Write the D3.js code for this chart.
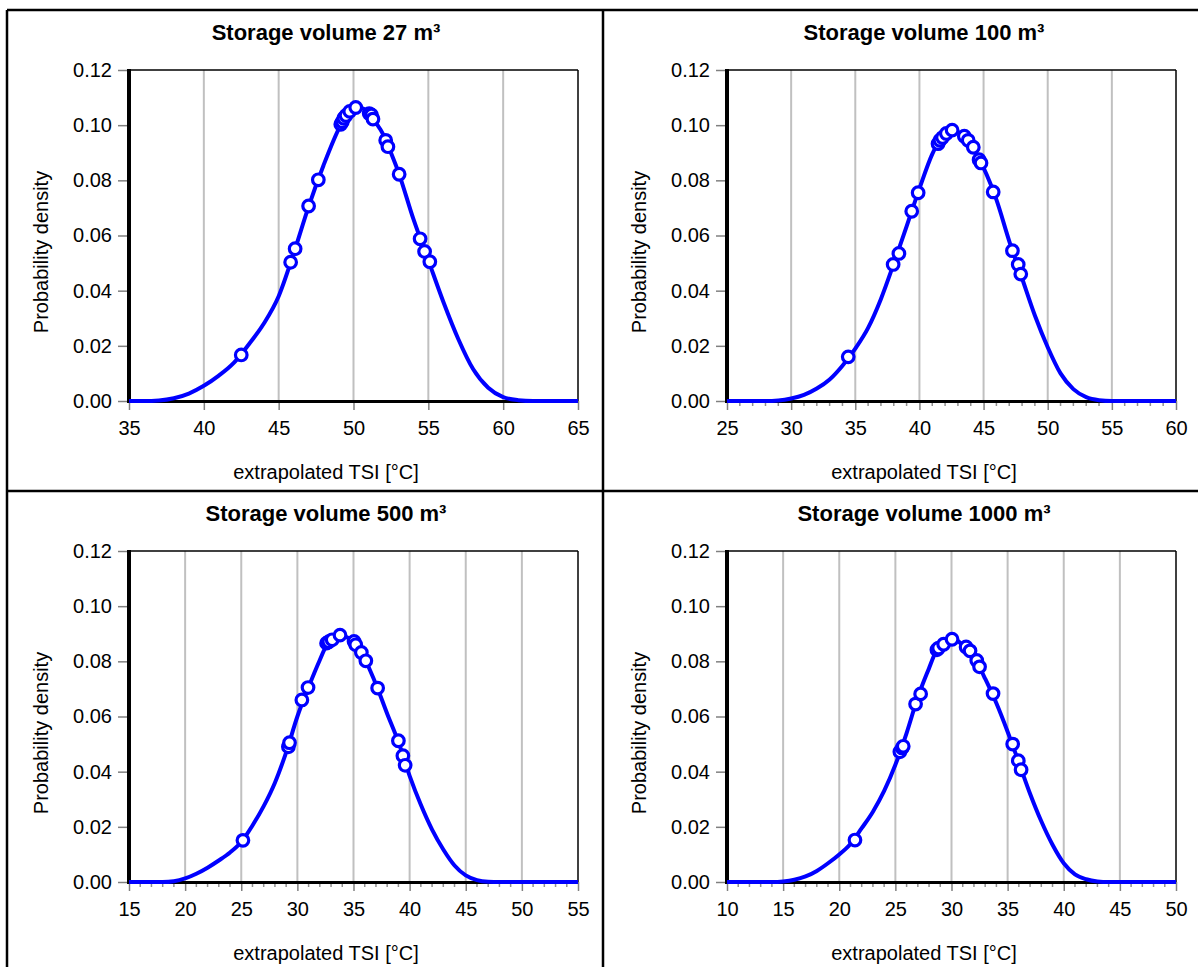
<!DOCTYPE html>
<html>
<head>
<meta charset="utf-8">
<script src="https://cdn.jsdelivr.net/npm/d3@7"></script>
<style>
  html, body { margin: 0; padding: 0; background: #fff; }
  svg { display: block; }
  text { font-family: "Liberation Sans", Arial, sans-serif; fill: #000; }
</style>
</head>
<body>
<script>
// ---------- data ----------
const panelTitles = ["Storage volume 27 m³", "Storage volume 100 m³", "Storage volume 500 m³", "Storage volume 1000 m³"];
const xAxisTitle = "extrapolated TSI [°C]";
const yAxisTitle = "Probability density";

const yTicks = [0, 0.02, 0.04, 0.06, 0.08, 0.10, 0.12];

const xTicks27   = [35, 40, 45, 50, 55, 60, 65];
const xTicks100  = [25, 30, 35, 40, 45, 50, 55, 60];
const xTicks500  = [15, 20, 25, 30, 35, 40, 45, 50, 55];
const xTicks1000 = [10, 15, 20, 25, 30, 35, 40, 45, 50];

// fitted density curves
const curveX27 = [35, 36, 37, 38, 39, 40, 41, 42, 43, 44, 45, 46, 47, 48, 49, 49.5, 50, 50.5, 51, 51.5, 52, 52.5, 53, 54, 55, 56, 57, 58, 59, 60, 61, 62, 65];
const curveY27 = [0, 0, 0.0002, 0.001, 0.0027, 0.0055, 0.0092, 0.0138, 0.0205, 0.028, 0.038, 0.0535, 0.0705, 0.0855, 0.0985, 0.1035, 0.106, 0.1062, 0.1045, 0.1008, 0.0965, 0.090, 0.083, 0.066, 0.051, 0.036, 0.0225, 0.0115, 0.0048, 0.0014, 0.0003, 0, 0];

const curveX100 = [25, 28, 29, 30, 31, 32, 33, 34, 35, 36, 37, 38, 39, 40, 41, 41.5, 42, 42.5, 43, 43.5, 44, 44.5, 45, 46, 47, 48, 49, 50, 51, 52, 53, 54, 55, 60];
const curveY100 = [0, 0, 0.0002, 0.0009, 0.0022, 0.0045, 0.0078, 0.0128, 0.019, 0.0265, 0.037, 0.0498, 0.0633, 0.077, 0.0895, 0.094, 0.0968, 0.098, 0.0975, 0.096, 0.0935, 0.089, 0.0845, 0.073, 0.058, 0.0445, 0.031, 0.0195, 0.0100, 0.0043, 0.0014, 0.0003, 0, 0];

const curveX500 = [15, 18, 19, 20, 21, 22, 23, 24, 25, 26, 27, 28, 29, 30, 31, 32, 32.5, 33, 33.5, 34, 34.5, 35, 35.5, 36, 36.5, 37, 38, 39, 40, 41, 42, 43, 44, 45, 46, 47, 48, 55];
const curveY500 = [0, 0, 0.0003, 0.0013, 0.003, 0.0052, 0.0078, 0.0107, 0.0145, 0.0205, 0.0275, 0.036, 0.047, 0.060, 0.0707, 0.0805, 0.085, 0.0875, 0.089, 0.0893, 0.0885, 0.0872, 0.0845, 0.081, 0.0765, 0.0717, 0.061, 0.0508, 0.0385, 0.028, 0.019, 0.0118, 0.006, 0.0024, 0.0007, 0.0001, 0, 0];

const curveX1000 = [10, 14, 15, 16, 17, 18, 19, 20, 21, 22, 23, 24, 25, 26, 27, 28, 28.5, 29, 29.5, 30, 30.5, 31, 31.5, 32, 32.5, 33, 34, 35, 36, 37, 38, 39, 40, 41, 42, 43, 44, 50];
const curveY1000 = [0, 0, 0.0002, 0.0008, 0.002, 0.004, 0.0068, 0.0100, 0.0138, 0.0195, 0.0255, 0.033, 0.0425, 0.054, 0.067, 0.0775, 0.0825, 0.0855, 0.0872, 0.088, 0.0875, 0.0858, 0.0838, 0.0812, 0.0778, 0.0737, 0.0648, 0.0545, 0.0433, 0.032, 0.022, 0.0135, 0.0068, 0.0028, 0.001, 0.0002, 0, 0];

// observed points
const pointsX27 = [42.5, 45.8, 46.1, 47.0, 47.65, 49.15, 49.25, 49.35, 49.5, 49.75, 50.15, 51.05, 51.2, 51.3, 52.15, 52.3, 53.05, 54.45, 54.75, 55.1];
const pointsY27 = [0.0167, 0.0503, 0.0552, 0.0707, 0.0802, 0.1003, 0.1012, 0.1025, 0.1035, 0.1050, 0.1064, 0.1042, 0.1037, 0.1022, 0.0945, 0.0922, 0.0822, 0.0588, 0.0542, 0.0505];

const pointsX100 = [34.45, 37.95, 38.4, 39.4, 39.9, 41.45, 41.6, 41.8, 42.1, 42.55, 43.5, 43.8, 44.2, 44.65, 44.8, 45.75, 47.25, 47.7, 47.9];
const pointsY100 = [0.016, 0.0495, 0.0535, 0.0688, 0.0755, 0.0933, 0.0945, 0.0955, 0.097, 0.0982, 0.096, 0.0945, 0.092, 0.0875, 0.0863, 0.0758, 0.0545, 0.0495, 0.0460];

const pointsX500 = [25.15, 29.2, 29.3, 30.4, 30.95, 32.6, 32.8, 33.1, 33.8, 35.05, 35.2, 35.7, 36.1, 37.15, 39.0, 39.4, 39.6];
const pointsY500 = [0.0151, 0.049, 0.0505, 0.066, 0.0705, 0.0866, 0.0871, 0.0878, 0.0895, 0.0872, 0.086, 0.0832, 0.0802, 0.0703, 0.0512, 0.0458, 0.0423];

const pointsX1000 = [21.4, 25.4, 25.6, 25.7, 26.8, 27.25, 28.7, 28.85, 29.3, 30.05, 31.3, 31.65, 32.25, 32.5, 33.7, 35.45, 35.95, 36.2];
const pointsY1000 = [0.0152, 0.0472, 0.0486, 0.0492, 0.0645, 0.0682, 0.0842, 0.0848, 0.0862, 0.088, 0.0852, 0.0838, 0.0803, 0.0780, 0.0683, 0.0500, 0.0440, 0.0407];

// ---------- build ----------
const panels = [
  { title: panelTitles[0], ticks: xTicks27,   cx: curveX27,   cy: curveY27,   px: pointsX27,   py: pointsY27 },
  { title: panelTitles[1], ticks: xTicks100,  cx: curveX100,  cy: curveY100,  px: pointsX100,  py: pointsY100 },
  { title: panelTitles[2], ticks: xTicks500,  cx: curveX500,  cy: curveY500,  px: pointsX500,  py: pointsY500 },
  { title: panelTitles[3], ticks: xTicks1000, cx: curveX1000, cy: curveY1000, px: pointsX1000, py: pointsY1000 }
];

const W = 1198, H = 967;
const svg = d3.select("body").append("svg").attr("width", W).attr("height", H);
svg.append("rect").attr("width", W).attr("height", H).attr("fill", "#fff");

const BLUE = "#0000ff";

panels.forEach((p, i) => {
  const ox = (i % 2) * 598;
  const oy = Math.floor(i / 2) * 481;
  const L = 129 + ox, R = 578 + ox, T = 70 + oy, B = 401 + oy;

  const x = d3.scaleLinear().domain([p.ticks[0], p.ticks[p.ticks.length - 1]]).range([L, R]);
  const y = d3.scaleLinear().domain([0, 0.12]).range([B, T]);

  const g = svg.append("g");

  // vertical gridlines
  g.selectAll("line.grid").data(p.ticks.slice(1, -1)).enter().append("line")
    .attr("x1", d => x(d)).attr("x2", d => x(d))
    .attr("y1", T).attr("y2", B)
    .attr("stroke", "#c0c0c0").attr("stroke-width", 2);

  // frame top/right
  g.append("line").attr("x1", L).attr("x2", R).attr("y1", T).attr("y2", T).attr("stroke", "#000").attr("stroke-width", 1.5);
  g.append("line").attr("x1", R).attr("x2", R).attr("y1", T).attr("y2", B).attr("stroke", "#000").attr("stroke-width", 1.5);

  // axes
  const ya = g.append("g").attr("transform", `translate(${L},0)`)
    .call(d3.axisLeft(y).tickValues(yTicks).tickFormat(d3.format(".2f")).tickSize(11).tickPadding(6));
  const xa = g.append("g").attr("transform", `translate(0,${B})`)
    .call(d3.axisBottom(x).tickValues(p.ticks).tickFormat(d3.format("d")).tickSize(9).tickPadding(11));
  [ya, xa].forEach(a => {
    a.select(".domain").remove();
    a.selectAll(".tick line").attr("stroke", "#808080").attr("stroke-width", 1.5);
    a.selectAll(".tick text").attr("font-size", 20).attr("font-family", "Liberation Sans, Arial, sans-serif").attr("fill", "#000");
  });

  // minor ticks
  if (i > 0) {
    const minor = d3.range(p.ticks[0] + 1, p.ticks[p.ticks.length - 1], 1).filter(v => v % 5 !== 0);
    g.selectAll("line.minor").data(minor).enter().append("line")
      .attr("x1", d => x(d)).attr("x2", d => x(d))
      .attr("y1", B + 2).attr("y2", B + 5)
      .attr("stroke", "#909090").attr("stroke-width", 1.5);
  }

  // thick left & bottom axis lines
  g.append("line").attr("x1", L).attr("x2", L).attr("y1", T - 1).attr("y2", B + 2).attr("stroke", "#000").attr("stroke-width", 4);
  g.append("line").attr("x1", L).attr("x2", R).attr("y1", B + 0.5).attr("y2", B + 0.5).attr("stroke", "#000").attr("stroke-width", 3);

  // curve
  const line = d3.line().x(d => x(d[0])).y(d => y(d[1])).curve(d3.curveMonotoneX);
  const cdata = p.cx.map((v, k) => [v, p.cy[k]]);
  g.append("path").datum(cdata).attr("d", line)
    .attr("fill", "none").attr("stroke", BLUE).attr("stroke-width", 4).attr("stroke-linejoin", "round");

  // points
  const pdata = p.px.map((v, k) => [v, p.py[k]]);
  g.selectAll("circle").data(pdata).enter().append("circle")
    .attr("cx", d => x(d[0])).attr("cy", d => y(d[1])).attr("r", 5.8)
    .attr("fill", "#fff").attr("stroke", BLUE).attr("stroke-width", 3.2);

  // texts
  g.append("text").attr("x", 326 + ox).attr("y", 32 + oy)
    .attr("text-anchor", "middle").attr("dominant-baseline", "central")
    .attr("font-size", 22).attr("font-weight", "bold").text(p.title);
  g.append("text").attr("x", 326 + ox).attr("y", 472 + oy)
    .attr("text-anchor", "middle").attr("dominant-baseline", "central")
    .attr("font-size", 20).text(xAxisTitle);
  g.append("text").attr("transform", `translate(${41 + ox},${252 + oy}) rotate(-90)`)
    .attr("text-anchor", "middle").attr("dominant-baseline", "central")
    .attr("font-size", 20).text(yAxisTitle);
});

// outer borders and dividers
const bl = [
  [7, 10, W, 10], [7, 10, 7, H], [603, 10, 603, H], [7, 491, W, 491]
];
svg.selectAll("line.border").data(bl).enter().append("line")
  .attr("x1", d => d[0]).attr("y1", d => d[1]).attr("x2", d => d[2]).attr("y2", d => d[3])
  .attr("stroke", "#000").attr("stroke-width", 2.5);
</script>
</body>
</html>
